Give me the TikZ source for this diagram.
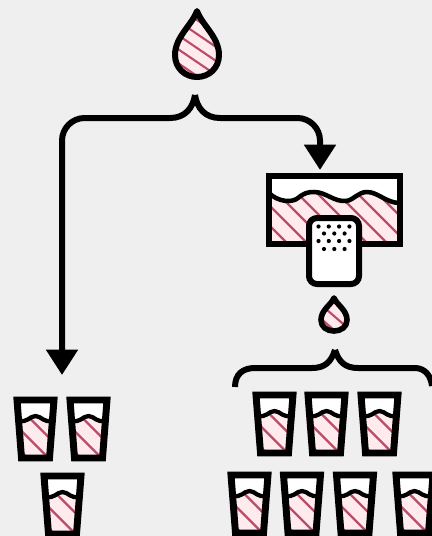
\documentclass[tikz,border=0pt]{standalone}
\usepackage{tikz}
\usetikzlibrary{arrows.meta}
\definecolor{bgcol}{HTML}{EFEFEF}
\definecolor{watercol}{HTML}{FFEBEE}
\definecolor{stripecol}{HTML}{BC4D68}
\tikzset{%
  thick line/.style={line width=4.5pt, black},
  stripe/.style={line width=1.6pt, stripecol},
  flow/.style={line width=4.5pt, rounded corners=17pt, -{Triangle[length=19pt,width=23pt]}},
  glass/.pic={
    \fill[white] (-18,0) -- (18,0) -- (14,58) -- (-14,58) -- cycle;
    \begin{scope}
      \clip (-17,20) .. controls (-9,24) and (-6,16) .. (0,16) .. controls (6,16) and (9,24) .. (17,20) -- (14,58) -- (-14,58) -- cycle;
      \fill[watercol] (-20,10) rectangle (20,60);
      \foreach \s in {-38,-17,4,25,46}
        \draw[stripe] (-20,\s) -- (30,\s+50);
    \end{scope}
    \draw[line width=3.2pt] (-17,20) .. controls (-9,24) and (-6,16) .. (0,16) .. controls (6,16) and (9,24) .. (17,20);
    \draw[line width=5.2pt, line join=miter] (-18.5,0) -- (18.5,0) -- (14,58) -- (-14,58) -- cycle;
  },
  drop/.pic={
    \begin{scope}
      \clip (0,-44) .. controls (-5,-30) and (-22,-18) .. (-22,0) .. controls (-22,13) and (-12,22) .. (0,22) .. controls (12,22) and (22,13) .. (22,0) .. controls (22,-18) and (5,-30) .. (0,-44) -- cycle;
      \fill[watercol] (-25,-45) rectangle (25,25);
      \foreach \s in {-66,-52,-38,-24,-10,4,18}
        \draw[stripe] (-25,\s) -- (25,\s+34);
    \end{scope}
    \draw[line width=4.5pt, line join=round] (0,-44) .. controls (-5,-30) and (-22,-18) .. (-22,0) .. controls (-22,13) and (-12,22) .. (0,22) .. controls (12,22) and (22,13) .. (22,0) .. controls (22,-18) and (5,-30) .. (0,-44) -- cycle;
  },
  small drop/.pic={
    \begin{scope}
      \clip (0,-21) .. controls (-3,-14) and (-13,-9) .. (-13,1) .. controls (-13,8) and (-7,12) .. (0,12) .. controls (7,12) and (13,8) .. (13,1) .. controls (13,-9) and (3,-14) .. (0,-21) -- cycle;
      \fill[watercol] (-15,-22) rectangle (15,14);
      \foreach \s in {-30,-16,-2}
        \draw[stripe] (-15,\s) -- (15,\s+26);
    \end{scope}
    \draw[line width=4.2pt, line join=round] (0,-21) .. controls (-3,-14) and (-13,-9) .. (-13,1) .. controls (-13,8) and (-7,12) .. (0,12) .. controls (7,12) and (13,8) .. (13,1) .. controls (13,-9) and (3,-14) .. (0,-21) -- cycle;
  },
}

\begin{document}
\begin{tikzpicture}[x=0.75pt, y=-0.75pt]
    \useasboundingbox (0,0) rectangle (432,536);
    \fill[bgcol] (0,0) rectangle (432,536);

    \coordinate (LeftEnd) at (62,375);
    \coordinate (RightEnd) at (320,170);
    \coordinate (BraceTip) at (335,350);

    %big drop
    \pic at (197,55) {drop};

    %top brace, both arrows
    \draw[thick line] (195,95) .. controls (193,108) and (185,118) .. (170,118);
    \draw[thick line] (195,95) .. controls (197,108) and (205,118) .. (220,118);
    \draw[flow] (170,118) -| (LeftEnd);
    \draw[flow] (220,118) -| (RightEnd);

    %filter tank
    \fill[white] (269,176) rectangle (400,244);
    \begin{scope}
      \clip (269,193) .. controls (278,202) and (292,203) .. (298,198) .. controls (304,193) and (308,192) .. (314,192) .. controls (326,192) and (334,202) .. (346,201) .. controls (354,200) and (358,192) .. (367,192) .. controls (378,192) and (386,203) .. (400,203) -- (400,244) -- (269,244) -- cycle;
      \fill[watercol] (269,176) rectangle (400,244);
      \foreach \s in {-40,-20,...,220}
        \draw[stripe] (260+\s,176) -- (340+\s,256);
    \end{scope}
    \draw[line width=3.4pt] (269,193) .. controls (278,202) and (292,203) .. (298,198) .. controls (304,193) and (308,192) .. (314,192) .. controls (326,192) and (334,202) .. (346,201) .. controls (354,200) and (358,192) .. (367,192) .. controls (378,192) and (386,203) .. (400,203);
    \draw[thick line] (269,176) rectangle (400,244);

    %cartridge
    \draw[thick line, fill=white, rounded corners=6pt] (309,218) rectangle (359,284);
    \foreach \dx in {0,1,2,3}
      \fill (318.5+\dx*10.3,226.5) circle (2.1);
    \foreach \dx in {0,1,2}
      \fill (324+\dx*10.3,233.5) circle (2.1);
    \foreach \dx in {0,1,2,3}
      \fill (318.5+\dx*10.3,241) circle (2.1);
    \foreach \dx in {0,1,2}
      \fill (324+\dx*10.3,249) circle (2.1);

    %small drop
    \pic at (334,319) {small drop};

    %lower brace
    \draw[thick line] (235,387) .. controls (235,374) and (243,368) .. (255,368) -- (312,368) .. controls (325,368) and (331,362) .. (BraceTip);
    \draw[thick line] (BraceTip) .. controls (339,362) and (345,368) .. (358,368) -- (415,368) .. controls (425,368) and (431,376) .. (432,386);

    %glasses
    \foreach \gx/\gy in {35.5/400, 88.5/400, 62.5/476,
                         274.5/395, 326.5/395, 379.5/395,
                         249.5/475, 302/475, 355/475, 414.5/475}
      \pic at (\gx,\gy) {glass};
\end{tikzpicture}
\end{document}
